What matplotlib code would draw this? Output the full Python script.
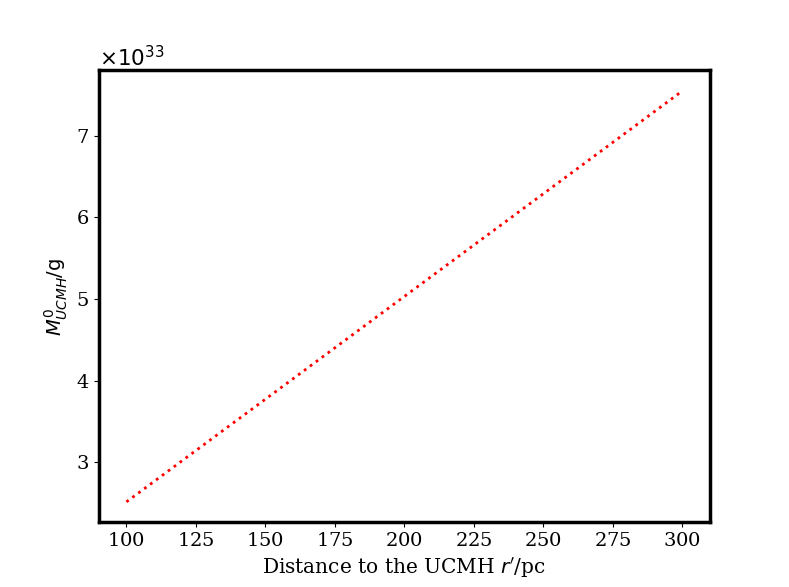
import matplotlib
matplotlib.use("Agg")
import matplotlib.pyplot as plt

plt.rcParams['font.family'] = 'DejaVu Serif'
plt.rcParams['axes.formatter.use_mathtext'] = True

r_pc = [100, 150, 200, 250, 300]
mass_g = [2.515e33, 3.772e33, 5.030e33, 6.287e33, 7.545e33]

fig = plt.figure(figsize=(7.89, 5.87), dpi=100)
ax = fig.add_subplot(111)
ax.plot(r_pc, mass_g, ':', color='red', linewidth=2)
ax.set_xlabel("Distance to the UCMH $r'$/pc", fontsize=14.5)
ax.set_ylabel("$M^0_{UCMH}$/g", fontsize=14, family='DejaVu Sans')
ax.tick_params(labelsize=14)
off = ax.yaxis.get_offset_text()
off.set_fontsize(15.5)
off.set_family('DejaVu Sans')
for s in ax.spines.values():
    s.set_linewidth(2.5)
fig.savefig("out.png", dpi=100)
